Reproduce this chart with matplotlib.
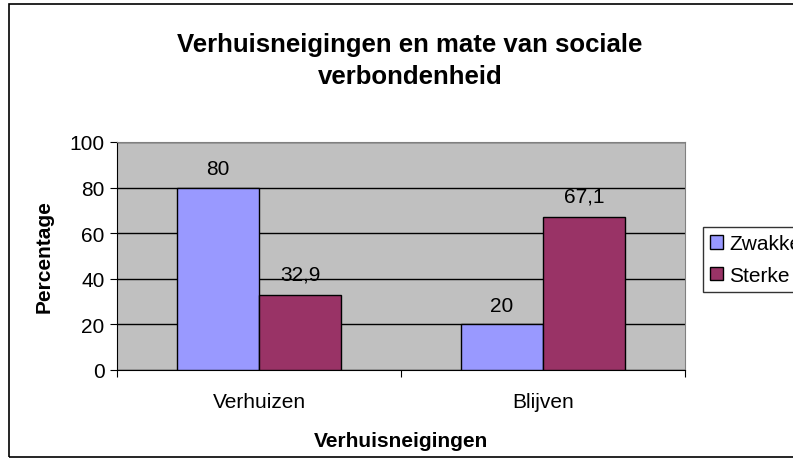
import numpy as np
import matplotlib
matplotlib.use("Agg")
import matplotlib.pyplot as plt
from matplotlib.patches import Rectangle

plt.rcParams['font.family'] = ['Liberation Sans', 'DejaVu Sans']

categories = ["Verhuizen", "Blijven"]
series_names = ["Zwakke", "Sterke"]
zwakke = [80, 20]
sterke = [32.9, 67.1]
zwakke_labels = ["80", "20"]
sterke_labels = ["32,9", "67,1"]

W, H = 793, 464
fs = 15
fig = plt.figure(figsize=(W / 100, H / 100), dpi=100)
ax = fig.add_axes([117 / W, 1 - 371 / H, 568 / W, 228 / H])
ax.set_facecolor("#C0C0C0")

x = np.arange(len(categories))
bw = 0.29
b1 = ax.bar(x - bw / 2, zwakke, bw, color="#9999FF", edgecolor="black", linewidth=1, label=series_names[0], zorder=3)
b2 = ax.bar(x + bw / 2, sterke, bw, color="#993366", edgecolor="black", linewidth=1, label=series_names[1], zorder=3)

for rect, lab in zip(b1, zwakke_labels):
    ax.text(rect.get_x() + rect.get_width() / 2, rect.get_height() + 4, lab,
            ha="center", va="bottom", fontsize=fs)
for rect, lab in zip(b2, sterke_labels):
    ax.text(rect.get_x() + rect.get_width() / 2, rect.get_height() + 5, lab,
            ha="center", va="bottom", fontsize=fs)

ax.set_xlim(-0.5, 1.5)
ax.set_ylim(0, 100)
ax.set_yticks(range(0, 101, 20))
ax.yaxis.grid(True, color="black", linewidth=1, zorder=1)
ax.set_axisbelow(True)
ax.set_xticks([-0.5, 0.5, 1.5])
ax.set_xticklabels([])
ax.set_xticks(x, minor=True)
ax.set_xticklabels(categories, minor=True, fontsize=fs)
ax.tick_params(axis="x", which="minor", length=0, pad=16)
ax.tick_params(axis="x", which="major", length=5, direction="out")
ax.tick_params(axis="y", length=5, direction="out", labelsize=fs, pad=4)
for s in ["left", "bottom"]:
    ax.spines[s].set_color("black")
for s in ["top", "right"]:
    ax.spines[s].set_color("#808080")

ax.set_ylabel("Percentage", fontsize=fs, fontweight="bold", labelpad=11)
ax.set_xlabel("Verhuisneigingen", fontsize=fs, fontweight="bold", labelpad=14)

fig.text(410 / W, 1 - 61 / H, "Verhuisneigingen en mate van sociale\nverbondenheid",
         ha="center", va="center", fontsize=18.5, fontweight="bold", linespacing=1.38)

leg = fig.legend(loc="upper left", bbox_to_anchor=(703 / W, 1 - 228 / H),
                 fontsize=fs, frameon=True, fancybox=False, edgecolor="black",
                 handlelength=0.6, handleheight=0.6, handletextpad=0.3,
                 labelspacing=0.6, borderpad=0.35, borderaxespad=0)
leg.get_frame().set_linewidth(1)

fig.patches.append(Rectangle((9 / W, 1 - 458 / H), 800 / W, 453 / H,
                             transform=fig.transFigure, fill=False,
                             edgecolor="black", linewidth=1.2))

fig.savefig("out.png", dpi=100)
